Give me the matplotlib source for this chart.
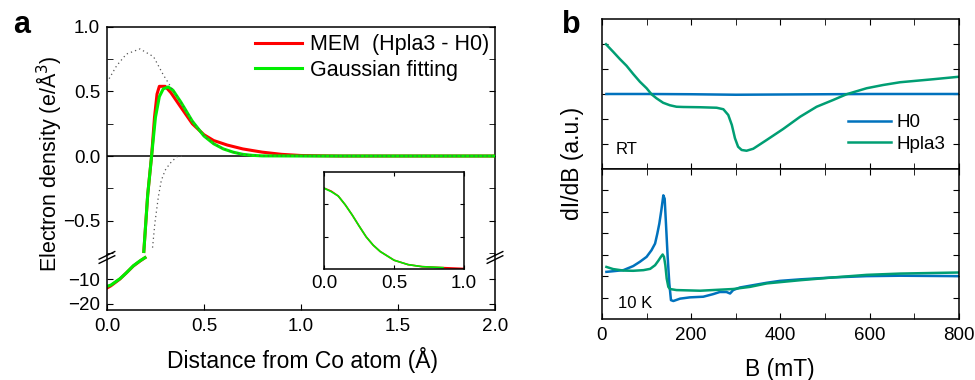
import numpy as np
import matplotlib.pyplot as plt
from matplotlib.ticker import MultipleLocator

plt.rcParams['font.family'] = ['Liberation Sans', 'DejaVu Sans']
plt.rcParams['axes.linewidth'] = 1.1
plt.rcParams['xtick.direction'] = 'in'
plt.rcParams['ytick.direction'] = 'in'

# ---- panel a data (distance in Angstrom) ----
x_mem = [0.19, 0.21, 0.23, 0.245, 0.258, 0.27, 0.30, 0.33, 0.38, 0.44, 0.50, 0.55, 0.62, 0.70,
         0.80, 0.90, 1.0, 1.2, 2.0]
y_mem = [-0.74, -0.30, 0.0, 0.30, 0.48, 0.54, 0.54, 0.49, 0.38, 0.25, 0.165, 0.12, 0.085, 0.055,
         0.03, 0.013, 0.004, 0.0, 0.0]
x_gau = [0.19, 0.21, 0.23, 0.25, 0.27, 0.29, 0.315, 0.34, 0.38, 0.44, 0.50, 0.55, 0.60, 0.65,
         0.70, 0.75, 0.80, 1.0, 2.0]
y_gau = [-0.74, -0.30, 0.0, 0.30, 0.46, 0.52, 0.535, 0.51, 0.42, 0.27, 0.155, 0.095, 0.055, 0.03,
         0.013, 0.005, 0.001, 0.0, 0.0]
x_env_up = [0.0, 0.05, 0.10, 0.17, 0.24, 0.29, 0.34, 0.38, 0.44, 0.50, 0.55, 0.60, 0.65, 0.70,
            0.80, 1.0, 2.0]
y_env_up = [0.57, 0.70, 0.79, 0.83, 0.77, 0.63, 0.51, 0.42, 0.27, 0.155, 0.095, 0.055, 0.03,
            0.013, 0.001, 0.0, 0.0]
x_env_lo = [0.235, 0.247, 0.265, 0.28, 0.30, 0.325, 0.36, 0.40]
y_env_lo = [-0.71, -0.52, -0.315, -0.19, -0.11, -0.057, -0.005, 0.0]

x_core = [0.0, 0.02, 0.067, 0.10, 0.136, 0.17, 0.196]
y_core_mem = [-13.5, -12.6, -9.8, -7.3, -4.5, -2.5, -1.1]
y_core_gau = [-12.8, -12.3, -9.7, -7.3, -4.4, -2.4, -1.1]

x_ins = [0.0, 0.05, 0.1, 0.15, 0.2, 0.25, 0.3, 0.35, 0.4, 0.5, 0.6, 0.7, 0.85, 1.0]
y_ins_mem = [0.83, 0.80, 0.75, 0.66, 0.555, 0.44, 0.33, 0.245, 0.18, 0.09, 0.045, 0.024, 0.014, 0.005]
y_ins_gau = [0.83, 0.795, 0.75, 0.66, 0.555, 0.44, 0.33, 0.245, 0.18, 0.09, 0.045, 0.024, 0.014]

# ---- panel b data (B in mT) ----
b_rt_h0 = [10, 100, 200, 300, 400, 500, 600, 700, 800]
rt_h0 = [3.0, 3.0, 2.99, 2.97, 2.98, 2.99, 3.0, 3.0, 3.0]
b_rt_hp = [9, 25, 40, 55, 70, 85, 100, 111, 122, 137, 152, 167, 182, 220, 257, 272, 283, 291,
           298, 305, 313, 324, 339, 369, 406, 444, 481, 518, 548, 593, 630, 668, 742, 800]
rt_hp = [4.99, 4.69, 4.40, 4.13, 3.80, 3.49, 3.23, 2.99, 2.83, 2.65, 2.55, 2.49, 2.48, 2.47,
         2.45, 2.39, 2.16, 1.76, 1.23, 0.89, 0.76, 0.73, 0.81, 1.16, 1.60, 2.09, 2.49, 2.76,
         2.99, 3.23, 3.36, 3.47, 3.59, 3.69]

b_lt_h0 = [10, 25, 48, 70, 85, 100, 111, 119, 124, 128.5, 133, 137.5, 140.5, 143.4, 147.2,
           150.9, 154.6, 160, 175, 197, 227, 249, 264, 279, 287, 294, 309, 339, 369, 399, 444,
           518, 593, 668, 800]
lt_h0 = [2.20, 2.23, 2.28, 2.47, 2.67, 2.90, 3.21, 3.52, 3.98, 4.45, 5.07, 5.77, 5.61, 4.45,
         2.90, 1.66, 0.88, 0.84, 0.95, 1.01, 1.04, 1.16, 1.26, 1.26, 1.19, 1.35, 1.47, 1.58,
         1.69, 1.78, 1.85, 1.94, 2.0, 2.02, 2.0]
b_lt_hp = [10, 25, 48, 70, 93, 108, 119, 126, 132, 136, 139, 142, 145, 148.7, 152.4, 167, 220,
           294, 332, 369, 444, 518, 593, 668, 800]
lt_hp = [2.43, 2.33, 2.26, 2.25, 2.28, 2.34, 2.51, 2.71, 2.90, 3.01, 2.90, 2.51, 1.89, 1.50,
         1.40, 1.35, 1.32, 1.40, 1.50, 1.66, 1.81, 1.94, 2.06, 2.12, 2.17]

red = '#ff0000'
lime = '#00ee00'
blue = '#0072bd'
teal = '#009e73'

fig = plt.figure(figsize=(9.75, 3.8), dpi=100)

# ---------- panel a ----------
axa = fig.add_axes([0.1097, 0.329, 0.398, 0.600])
axb = fig.add_axes([0.1097, 0.184, 0.398, 0.145])

axa.axhline(0, color='black', lw=1.1, zorder=1)
axa.plot(x_env_up, y_env_up, ls=(0, (1, 2.5)), color='#555555', lw=0.9, zorder=4)
axa.plot(x_env_lo, y_env_lo, ls=(0, (1, 2.5)), color='#555555', lw=0.9, zorder=4)
axa.plot(x_mem, y_mem, color=red, lw=2.2, label='MEM  (Hpla3 - H0)', zorder=2)
axa.plot(x_gau, y_gau, color=lime, lw=2.2, label='Gaussian fitting', zorder=3)
axa.set_xlim(0, 2.0)
axa.set_ylim(-0.767, 1.0)
axa.set_yticks([-0.5, 0.0, 0.5, 1.0])
axa.yaxis.set_minor_locator(MultipleLocator(0.25))
axa.tick_params(axis='y', which='both', right=True, length=4, labelsize=13.5, pad=5)
axa.tick_params(axis='x', which='both', bottom=False, top=False, labelbottom=False)
axa.spines['bottom'].set_visible(False)

axb.plot(x_core, y_core_mem, color=red, lw=2.2)
axb.plot(x_core, y_core_gau, color=lime, lw=2.2)
axb.set_xlim(0, 2.0)
axb.set_ylim(-22.5, 0)
axb.set_yticks([-20, -10])
axb.set_xticks([0.0, 0.5, 1.0, 1.5, 2.0])
axb.tick_params(axis='y', right=True, length=4, labelsize=13.5, pad=5)
axb.tick_params(axis='x', length=4, labelsize=13.5, pad=6)
axb.spines['top'].set_visible(False)

# break marks
for xf in (0.0, 1.0):
    fig.add_artist(plt.Line2D([0.1097 + xf * 0.398 - 0.008, 0.1097 + xf * 0.398 + 0.008],
                              [0.318, 0.338], transform=fig.transFigure, color='black', lw=1.0))
    fig.add_artist(plt.Line2D([0.1097 + xf * 0.398 - 0.008, 0.1097 + xf * 0.398 + 0.008],
                              [0.307, 0.327], transform=fig.transFigure, color='black', lw=1.0))

axa.legend(loc='upper left', bbox_to_anchor=(0.2615, 0.91), bbox_transform=fig.transFigure,
           frameon=False, fontsize=15.5, handlelength=2.2, handletextpad=0.35,
           labelspacing=0.2, borderpad=0, borderaxespad=0)

# inset
axi = fig.add_axes([0.3326, 0.2921, 0.1433, 0.256])
axi.plot(x_ins, y_ins_mem, color=red, lw=1.2)
axi.plot(x_ins[:-1], y_ins_gau, color=lime, lw=1.2)
axi.set_xlim(0, 1.0)
axi.set_ylim(0, 1.0)
axi.set_xticks([0.0, 0.5, 1.0])
axi.set_yticks([1 / 3, 2 / 3])
axi.tick_params(axis='y', right=True, labelleft=False, length=3)
axi.tick_params(axis='x', top=True, length=3, labelsize=13.5, pad=4)

fig.text(0.05, 0.568, 'Electron density (e/Å$^3$)', rotation=90, ha='center', va='center',
         fontsize=15.5)
fig.text(0.31, 0.053, 'Distance from Co atom (Å)', ha='center', va='center', fontsize=16.5)
fig.text(0.013, 0.913, 'a', fontsize=22, fontweight='bold', va='baseline')

# ---------- panel b ----------
ax1 = fig.add_axes([0.6174, 0.5553, 0.3662, 0.3947])
ax2 = fig.add_axes([0.6174, 0.1605, 0.3662, 0.3948])

ax1.plot(b_rt_h0, rt_h0, color=blue, lw=1.8, label='H0')
ax1.plot(b_rt_hp, rt_hp, color=teal, lw=1.8, label='Hpla3')
ax1.set_xlim(0, 800)
ax1.set_ylim(0, 6)
ax1.set_yticks([1, 2, 3, 4, 5])
ax1.xaxis.set_major_locator(MultipleLocator(200))
ax1.xaxis.set_minor_locator(MultipleLocator(100))
ax1.tick_params(which='both', top=True, right=True, labelleft=False, labelbottom=False, length=4)
ax1.text(30, 0.6, 'RT', fontsize=12)
ax1.legend(loc='upper left', bbox_to_anchor=(0.870, 0.70), bbox_transform=fig.transFigure,
           frameon=False, fontsize=13.5, handlelength=2.3, handletextpad=0.3,
           labelspacing=0.25, borderpad=0, borderaxespad=0)

ax2.plot(b_lt_h0, lt_h0, color=blue, lw=1.8)
ax2.plot(b_lt_hp, lt_hp, color=teal, lw=1.8)
ax2.set_xlim(0, 800)
ax2.set_ylim(0, 7)
ax2.set_yticks([1, 2, 3, 4, 5, 6])
ax2.xaxis.set_major_locator(MultipleLocator(200))
ax2.xaxis.set_minor_locator(MultipleLocator(100))
ax2.tick_params(which='both', top=True, right=True, labelleft=False, length=4)
ax2.tick_params(axis='x', labelsize=13.5, pad=6)
ax2.text(36, 0.5, '10 K', fontsize=12)

fig.text(0.587, 0.571, 'dI/dB (a.u.)', rotation=90, ha='center', va='center', fontsize=16.5)
fig.text(0.80, 0.028, 'B (mT)', ha='center', va='center', fontsize=16.5)
fig.text(0.576, 0.913, 'b', fontsize=22, fontweight='bold', va='baseline')

fig.savefig('out.png', dpi=100)
